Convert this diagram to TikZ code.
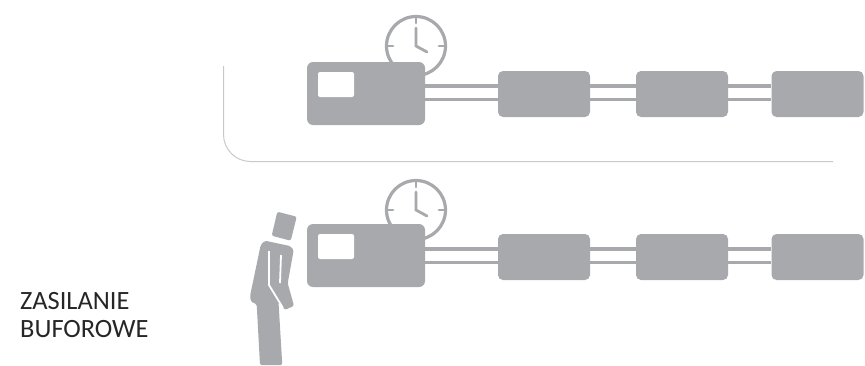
\documentclass[tikz,border=0pt]{standalone}
\usepackage{fontspec}
\setmainfont{Carlito}
\definecolor{boxgray}{HTML}{A7A9AC}
\definecolor{framegray}{HTML}{C8C9CB}
\tikzset{
  mainbox/.style={fill=boxgray, rounded corners=6pt, minimum width=118pt, minimum height=63pt, inner sep=0pt},
  smallbox/.style={fill=boxgray, rounded corners=5pt, minimum width=92pt, minimum height=46pt, inner sep=0pt},
  screen/.style={fill=white, rounded corners=2pt, minimum width=36pt, minimum height=25pt, inner sep=0pt},
  wire/.style={draw=boxgray, line width=3.4pt},
  clockface/.style={circle, draw=boxgray, line width=3.2pt, fill=white, minimum size=59pt, inner sep=0pt},
  hand/.style={draw=boxgray, line width=2.8pt, line cap=round},
}
\begin{document}
\begin{tikzpicture}[x=1pt, y=-1pt]
    \useasboundingbox (0,0) rectangle (865,365);
    % frame round the upper row
    \draw[framegray, line width=1pt, rounded corners=27pt] (223.5,66) -- (223.5,161.5) -- (833,161.5);
    \foreach \row/\clocky/\mainy/\boxy in {a/46/93.5/94, b/210/255.5/257} {
      \node[clockface] (clock\row) at (416,\clocky) {};
      \draw[hand] (clock\row.center) ++(0,-18) -- ++(0,18) -- ++(11,6);
      \foreach \a in {-90,0,180}
        \draw[hand] (clock\row.center) ++(\a:23) -- ++(\a:5);
      \node[mainbox] (main\row) at (366,\mainy) {};
      \node[screen] at (336,\mainy-9) {};
      \node[smallbox] (first\row) at (544,\boxy) {};
      \node[smallbox] (second\row) at (682,\boxy) {};
      \node[smallbox] (third\row) at (817.5,\boxy) {};
      \foreach \s in {8pt,-5.5pt} {
        \draw[wire] ([yshift=\s]first\row.west -| main\row.east) -- ([yshift=\s]first\row.west);
        \draw[wire] ([yshift=\s]first\row.east) -- ([yshift=\s]second\row.west);
        \draw[wire] ([yshift=\s]second\row.east) -- ([yshift=\s]third\row.west);
      }
    }
    % person
    \fill[boxgray, rounded corners=2pt] (277.3,211.7) -- (296.7,216.7) -- (290.7,240.7) -- (271.7,235.7) -- cycle;
    \fill[boxgray, rounded corners=1.5pt] (265,240.7) -- (290,246) -- (293.7,250) -- (287.7,283.3) -- (294,305.7) -- (285,310) -- (278.5,302) -- (282.3,365) -- (260,365) -- (256.7,304.3) -- (251,301.7) -- (250,296) -- (260.7,245) -- cycle;
    \draw[white, line width=1.8pt] (269,251) -- (269,285) -- (283,308);
    \draw[white, line width=1.8pt] (281,255) -- (280,283);
    \node[align=left, anchor=base west, font=\fontsize{26.4}{28}\selectfont, text=black!85, inner sep=0pt] (label) at (20,337) {ZASILANIE\\BUFOROWE};
\end{tikzpicture}
\end{document}
